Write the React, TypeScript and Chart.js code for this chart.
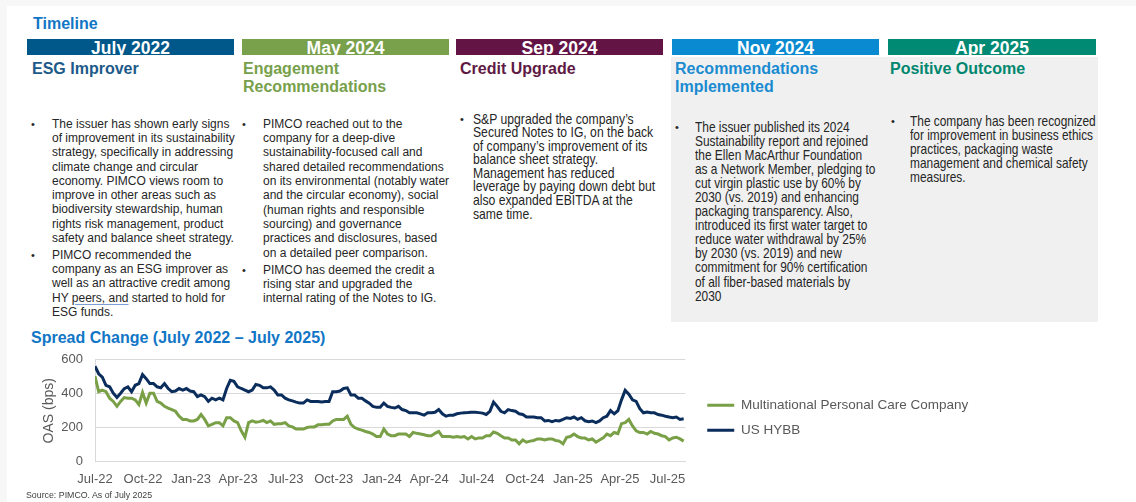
import React, { useEffect, useRef } from 'react';
import { Chart, registerables } from 'chart.js';

Chart.register(...registerables);

// ---------------- DATA ----------------
const seriesStart = '2022-07-01';
const stepDays = 7;
const axisEndDays = 1130;
const tickLabels = ['Jul-22', 'Oct-22', 'Jan-23', 'Apr-23', 'Jul-23', 'Oct-23', 'Jan-24', 'Apr-24', 'Jul-24', 'Oct-24', 'Jan-25', 'Apr-25', 'Jul-25'];
const yTicks = [0, 200, 400, 600];
const companyName = 'Multinational Personal Care Company';
const benchmarkName = 'US HYBB';

const companyOAS = [
  504, 412, 422, 412, 374, 355, 326, 355, 378, 374, 374, 364, 336, 408, 345, 403, 403, 355, 345, 326,
  316, 307, 297, 268, 249, 249, 240, 240, 249, 278, 249, 211, 220, 230, 230, 211, 259, 259, 240, 230,
  182, 144, 230, 240, 233, 236, 243, 230, 240, 220, 224, 224, 230, 211, 205, 192, 192, 192, 201, 205,
  205, 217, 217, 220, 220, 240, 249, 249, 249, 268, 220, 201, 192, 186, 178, 172, 163, 148, 148, 192,
  163, 153, 153, 163, 163, 163, 148, 172, 167, 163, 159, 153, 153, 167, 178, 148, 148, 148, 144, 148,
  144, 148, 134, 148, 134, 140, 140, 153, 153, 175, 167, 153, 140, 140, 128, 128, 105, 128, 115, 121,
  125, 134, 134, 128, 134, 134, 125, 121, 105, 144, 148, 163, 148, 140, 139, 128, 134, 115, 128, 140,
  163, 153, 172, 165, 224, 230, 249, 211, 182, 172, 172, 163, 178, 167, 163, 153, 148, 128, 140, 144,
  134, 121,
];

const hybbOAS = [
  562, 518, 498, 450, 441, 403, 378, 403, 430, 441, 412, 450, 460, 513, 489, 460, 460, 441, 435, 460,
  431, 412, 416, 431, 422, 431, 416, 412, 383, 393, 383, 355, 374, 364, 374, 364, 431, 479, 473, 441,
  431, 422, 412, 422, 455, 450, 435, 435, 441, 422, 393, 393, 374, 364, 358, 351, 345, 345, 364, 355,
  355, 355, 351, 355, 355, 412, 412, 416, 431, 435, 393, 393, 374, 374, 358, 345, 326, 320, 320, 345,
  326, 320, 316, 326, 307, 301, 288, 288, 288, 282, 274, 288, 288, 291, 307, 282, 268, 274, 274, 282,
  286, 288, 289, 291, 291, 289, 286, 278, 297, 351, 326, 297, 288, 307, 301, 297, 282, 278, 263, 263,
  263, 259, 259, 240, 243, 236, 243, 240, 249, 259, 255, 263, 249, 259, 241, 236, 240, 230, 240, 259,
  268, 301, 282, 300, 364, 420, 397, 364, 355, 312, 288, 293, 288, 288, 278, 274, 268, 263, 259, 263,
  249, 253,
];

const pageTitle = 'Timeline';
const chartTitle = 'Spread Change (July 2022 \u2013 July 2025)';
const yAxisTitle = 'OAS (bps)';
const sourceNote = 'Source: PIMCO. As of July 2025';

const headerDates = ['July 2022', 'May 2024', 'Sep 2024', 'Nov 2024', 'Apr 2025'];
const headerTitles = [['ESG Improver'], ['Engagement', 'Recommendations'], ['Credit Upgrade'], ['Recommendations', 'Implemented'], ['Positive Outcome']];

const col1Paras = [
  ['The issuer has shown early signs', 'of improvement in its sustainability', 'strategy, specifically in addressing', 'climate change and circular', 'economy. PIMCO views room to', 'improve in other areas such as', 'biodiversity stewardship, human', 'rights risk management, product', 'safety and balance sheet strategy.'],
  ['PIMCO recommended the', 'company as an ESG improver as', 'well as an attractive credit among', 'HY |peers, and| started to hold for', 'ESG funds.'],
];
const col2Paras = [
  ['PIMCO reached out to the', 'company for a deep-dive', 'sustainability-focused call and', 'shared detailed recommendations', 'on its environmental (notably water', 'and the circular economy), social', '(human rights and responsible', 'sourcing) and governance', 'practices and disclosures, based', 'on a detailed peer comparison.'],
  ['PIMCO has deemed the credit a', 'rising star and upgraded the', 'internal rating of the Notes to IG.'],
];
const col3Paras = [
  ['S&P upgraded the company\u2019s', 'Secured Notes to IG, on the back', 'of company\u2019s improvement of its', 'balance sheet strategy.', 'Management has reduced', 'leverage by paying down debt but', 'also expanded EBITDA at the', 'same time.'],
];
const col4Paras = [
  ['The issuer published its 2024', 'Sustainability report and rejoined', 'the Ellen MacArthur Foundation', 'as a Network Member, pledging to', 'cut virgin plastic use by 60% by', '2030 (vs. 2019) and enhancing', 'packaging transparency. Also,', 'introduced its first water target to', 'reduce water withdrawal by 25%', 'by 2030 (vs. 2019) and new', 'commitment for 90% certification', 'of all fiber-based materials by', '2030'],
];
const col5Paras = [
  ['The company has been recognized', 'for improvement in business ethics', 'practices, packaging waste', 'management and chemical safety', 'measures.'],
];

// ---------------- STYLE ----------------
const SANS = '"Liberation Sans", Arial, Helvetica, sans-serif';
const GREEN = '#79A046';
const NAVY = '#0B2D5C';
const GRID = '#D9D9D9';
const AXIS_TXT = '#595959';
const BODY_TXT = '#262626';
const TITLE_BLUE = '#1176C6';

const barColors = ['#00578A', '#79A04A', '#631445', '#0A8AD0', '#008A73'];
const subColors = ['#1D5A8A', '#77A04B', '#5E1A44', '#1A8BD0', '#00876F'];
const barX = [[27, 234], [242, 449], [456, 663], [672, 879], [888, 1096]];
const subX = [32, 243, 460, 675, 890];

function renderLine(line: string) {
  if (line.includes('|')) {
    const parts = line.split('|');
    return (
      <>
        {parts[0]}
        <span style={{ textDecoration: 'underline', textDecorationColor: '#7C9CD6', textUnderlineOffset: 2 }}>{parts[1]}</span>
        {parts[2]}
      </>
    );
  }
  return line;
}

type ColProps = {
  bulletX: number; textX: number; tops: number[]; lh: number; size: number; squeeze: number; paras: string[][];
};

function Column({ bulletX, textX, tops, lh, size, squeeze, paras }: ColProps) {
  return (
    <>
      {paras.map((p, i) => (
        <React.Fragment key={i}>
          <div style={{ position: 'absolute', left: bulletX, top: tops[i], lineHeight: lh + 'px', fontSize: 11, fontFamily: SANS, color: BODY_TXT }}>{'\u2022'}</div>
          <div style={{ position: 'absolute', left: textX, top: tops[i], lineHeight: lh + 'px', fontSize: size, fontFamily: SANS, color: BODY_TXT, whiteSpace: 'nowrap', transform: `scaleX(${squeeze})`, transformOrigin: 'left top' }}>
            {p.map((l, j) => (
              <div key={j}>{renderLine(l)}</div>
            ))}
          </div>
        </React.Fragment>
      ))}
    </>
  );
}

function SpreadChart() {
  const ref = useRef<HTMLCanvasElement>(null);
  useEffect(() => {
    const DAY = 86400000;
    const t0 = Date.parse(seriesStart + 'T00:00:00Z');
    const months = ['Jan', 'Feb', 'Mar', 'Apr', 'May', 'Jun', 'Jul', 'Aug', 'Sep', 'Oct', 'Nov', 'Dec'];
    const tickValues = tickLabels.map((l) => {
      const [m, y] = l.split('-');
      return Date.UTC(2000 + Number(y), months.indexOf(m), 1);
    });
    const labelFor = new Map<number, string>(tickValues.map((v, i) => [v, tickLabels[i]]));
    const toPoints = (arr: number[]) => arr.map((v, i) => ({ x: t0 + i * stepDays * DAY, y: v }));
    const chart = new Chart(ref.current as HTMLCanvasElement, {
      type: 'line',
      data: {
        datasets: [
          { label: companyName, data: toPoints(companyOAS), borderColor: GREEN, backgroundColor: GREEN, borderWidth: 3, pointRadius: 0, tension: 0, fill: false, yAxisID: 'y' },
          { label: benchmarkName, data: toPoints(hybbOAS), borderColor: NAVY, backgroundColor: NAVY, borderWidth: 3, pointRadius: 0, tension: 0, fill: false, yAxisID: 'y' },
        ],
      },
      options: {
        animation: false,
        responsive: false,
        maintainAspectRatio: false,
        layout: { padding: { top: 17.7, right: 1.65, bottom: 0.3, left: 0 } },
        plugins: {
          tooltip: { enabled: false },
          legend: {
            display: true,
            position: 'right',
            align: 'center',
            fullSize: false,
            maxWidth: 400,
            title: { display: true, text: ' ', font: { family: SANS, size: 10 }, padding: 1.1 },
            labels: {
              boxWidth: 27,
              boxHeight: 3,
              padding: 11.5,
              color: AXIS_TXT,
              font: { family: SANS, size: 13.5 },
              generateLabels: (c: any) =>
                (Chart.defaults.plugins.legend.labels.generateLabels as any)(c).map((it: any) => ({ ...it, lineWidth: 0, fillStyle: it.strokeStyle })),
            },
          },
        },
        scales: {
          x: {
            type: 'linear',
            min: t0,
            max: t0 + axisEndDays * DAY,
            grid: { display: false, drawTicks: false },
            border: { display: true, color: GRID },
            ticks: {
              autoSkip: false,
              maxRotation: 0,
              padding: 10,
              color: AXIS_TXT,
              font: { family: SANS, size: 13 },
              callback: (v: any) => labelFor.get(Number(v)) ?? '',
            },
            afterBuildTicks: (s: any) => {
              s.ticks = tickValues.map((v) => ({ value: v }));
            },
            afterFit: (s: any) => {
              s.height = 30;
            },
          },
          y: {
            position: 'left',
            min: 0,
            max: 600,
            grid: { color: GRID, lineWidth: 1, drawTicks: false },
            border: { display: true, color: GRID },
            ticks: { padding: 12, color: AXIS_TXT, font: { family: SANS, size: 13 } },
            afterBuildTicks: (s: any) => {
              s.ticks = yTicks.map((v) => ({ value: v }));
            },
            title: { display: true, text: yAxisTitle, color: AXIS_TXT, font: { family: SANS, size: 14 }, padding: { top: 20.6, bottom: 0 } },
            afterFit: (s: any) => {
              s.width = 75;
            },
          },
          gap: {
            type: 'linear',
            position: 'right',
            display: true,
            grid: { display: false },
            border: { display: false },
            ticks: { display: false },
            afterFit: (s: any) => {
              s.width = 10.5;
            },
          },
        },
      } as any,
    });
    return () => chart.destroy();
  }, []);
  return <canvas ref={ref} width={960} height={152} style={{ position: 'absolute', left: 20, top: 340, width: 960, height: 152 }} />;
}

export default function App() {
  return (
    <div style={{ position: 'absolute', left: 0, top: 0, width: 1136, height: 502, background: '#F7F7F7', overflow: 'hidden', fontFamily: SANS }}>
      <div style={{ position: 'absolute', left: 7, top: 6, width: 1129, height: 496, background: '#FFFFFF' }} />
      <div style={{ position: 'absolute', left: 671, top: 57, width: 427, height: 265, background: '#F0F0F0' }} />

      <div style={{ position: 'absolute', left: 33, top: 14.5, lineHeight: '18.5px', fontSize: 16, fontWeight: 'bold', color: TITLE_BLUE }}>{pageTitle}</div>

      {headerDates.map((d, i) => (
        <div key={d} style={{ position: 'absolute', left: barX[i][0], top: 39, width: barX[i][1] - barX[i][0], height: 16, background: barColors[i], overflow: 'hidden', textAlign: 'center' }}>
          <div style={{ lineHeight: '17px', paddingTop: 1, fontSize: 17.5, fontWeight: 'bold', color: '#FFFFFF', whiteSpace: 'nowrap' }}>{d}</div>
        </div>
      ))}

      {headerTitles.map((t, i) => (
        <div key={i} style={{ position: 'absolute', left: subX[i], top: 59.5, lineHeight: '18.5px', fontSize: 16, fontWeight: 'bold', color: subColors[i], whiteSpace: 'nowrap' }}>
          {t.map((l, j) => (
            <div key={j}>{l}</div>
          ))}
        </div>
      ))}

      <Column bulletX={31} textX={52} tops={[116.9, 247.9]} lh={14.25} size={12} squeeze={1} paras={col1Paras} />
      <Column bulletX={242} textX={263} tops={[116.85, 262.85]} lh={14.3} size={12} squeeze={1} paras={col2Paras} />
      <Column bulletX={460} textX={473} tops={[112.5]} lh={13.6} size={14.5} squeeze={0.84} paras={col3Paras} />
      <Column bulletX={675} textX={695} tops={[119.5]} lh={14.1} size={14.5} squeeze={0.82} paras={col4Paras} />
      <Column bulletX={891} textX={910} tops={[114]} lh={14.1} size={14.5} squeeze={0.82} paras={col5Paras} />

      <div style={{ position: 'absolute', left: 31, top: 329, lineHeight: '18.5px', fontSize: 16, fontWeight: 'bold', color: TITLE_BLUE, whiteSpace: 'nowrap' }}>{chartTitle}</div>

      <SpreadChart />

      <div style={{ position: 'absolute', left: 26, top: 490.2, lineHeight: '11px', fontSize: 8.8, color: '#404040', whiteSpace: 'nowrap' }}>{sourceNote}</div>
    </div>
  );
}
